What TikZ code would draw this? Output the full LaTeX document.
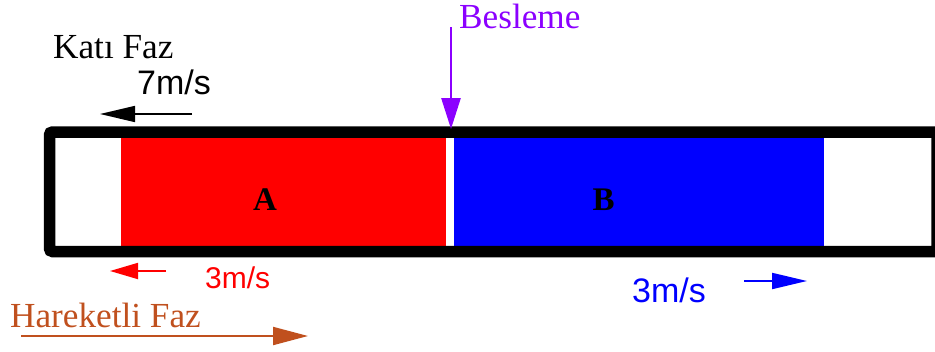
\documentclass[tikz,border=0pt]{standalone}
\usepackage{fontspec}
\setmainfont{Liberation Serif}
\newfontfamily\arialf{Liberation Sans}
\usetikzlibrary{arrows.meta}
\definecolor{besl}{HTML}{8B00FF}
\definecolor{hrk}{HTML}{C0501E}
\tikzset{
  lbl/.style={inner sep=0pt, anchor=base west, font=\fontsize{35.2}{40}\selectfont},
  slbl/.style={inner sep=0pt, anchor=base west, font=\arialf\fontsize{34}{40}\selectfont},
  zone/.style={inner sep=0pt, anchor=base, font=\bfseries\fontsize{33}{40}\selectfont},
  frame/.style={draw=black, line width=11.5pt, rounded corners=3pt},
}
\begin{document}
\begin{tikzpicture}[x=1pt,y=-1pt]
\useasboundingbox (0,0) rectangle (935,351);
\clip (0,0) rectangle (935,351);
% zones
\fill[red] (121,138) rectangle (446,246);
\fill[blue] (454,138) rectangle (824,246);
\node[zone] (A) at (265,210) {A};
\node[zone] (B) at (603.5,210) {B};
% column frame
\draw[frame] (49.5,132) rectangle (937,251.5);
% labels
\node[lbl] (kati) at (53,58) {Katı Faz};
\node[slbl] (v7) at (137,94) {7m/s};
\node[lbl, text=besl] (besleme) at (459,28) {Besleme};
\node[slbl, text=red, font=\arialf\fontsize{30}{36}\selectfont] (v3a) at (205,288) {3m/s};
\node[lbl, text=hrk] (hareketli) at (10,327) {Hareketli Faz};
\node[slbl, text=blue] (v3b) at (632,302) {3m/s};
% arrow end points
\coordinate (k1) at (192,114); \coordinate (k2) at (100,114);
\coordinate (b1) at (451,27); \coordinate (b2) at (451,129);
\coordinate (r1) at (166,271); \coordinate (r2) at (110,271);
\coordinate (h1) at (21,336); \coordinate (h2) at (308,336);
\coordinate (u1) at (744,281); \coordinate (u2) at (807,281);
\draw[line width=1.6pt, -{Triangle[length=35pt,width=16pt]}] (k1) -- (k2);
\draw[besl, line width=2.7pt, -{Triangle[length=31pt,width=19pt]}] (b1) -- (b2);
\draw[red, line width=1.8pt, -{Triangle[length=28pt,width=16pt]}] (r1) -- (r2);
\draw[hrk, line width=2pt, -{Triangle[length=35pt,width=18pt]}] (h1) -- (h2);
\draw[blue, line width=2pt, -{Triangle[length=35pt,width=16pt]}] (u1) -- (u2);
\end{tikzpicture}
\end{document}
